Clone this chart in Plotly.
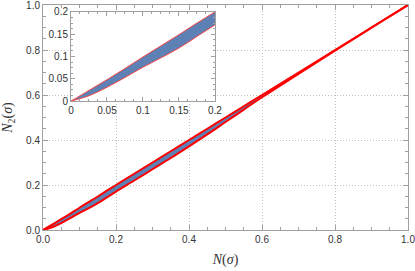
import plotly.graph_objects as go

# Data
n_vals = [0, 0.025, 0.05, 0.075, 0.1, 0.125, 0.15, 0.175, 0.2, 0.25, 0.3, 0.35,
          0.4, 0.45, 0.5, 0.55, 0.6, 0.7, 0.8, 0.9, 1.0]
upper = [0, 0.024, 0.048, 0.073, 0.099, 0.124, 0.149, 0.175, 0.2, 0.25, 0.3, 0.35,
         0.4, 0.45, 0.5, 0.55, 0.6, 0.7, 0.8, 0.9, 1.0]
lower = [0, 0.012, 0.031, 0.053, 0.076, 0.097, 0.119, 0.145, 0.171, 0.22, 0.27, 0.32,
         0.372, 0.425, 0.48, 0.535, 0.59, 0.694, 0.797, 0.899, 1.0]

main_ticks = [0.0, 0.2, 0.4, 0.6, 0.8, 1.0]
main_labels = ["0.0", "0.2", "0.4", "0.6", "0.8", "1.0"]
inset_ticks = [0, 0.05, 0.1, 0.15, 0.2]
inset_labels = ["0", "0.05", "0.1", "0.15", "0.2"]

BLUE = "rgb(94,129,181)"
RED = "rgb(255,0,0)"
FRAME = "#a0a0a0"
TICKFONT = dict(family="Liberation Sans, Arial, sans-serif", size=10, color="#333")
TITLEFONT = dict(family="Liberation Serif, Times New Roman, serif", size=14, color="#333")

fig = go.Figure()

for xa, ya, lw, lc in [("x", "y", 2, RED), ("x2", "y2", 1, "rgb(245,70,70)")]:
    fig.add_trace(go.Scatter(x=n_vals, y=lower, mode="lines", line=dict(width=0, color=BLUE, shape="spline"),
                             xaxis=xa, yaxis=ya, showlegend=False, hoverinfo="skip"))
    fig.add_trace(go.Scatter(x=n_vals, y=upper, mode="lines", line=dict(width=0, color=BLUE, shape="spline"),
                             fill="tonexty", fillcolor=BLUE,
                             xaxis=xa, yaxis=ya, showlegend=False, hoverinfo="skip"))
    fig.add_trace(go.Scatter(x=n_vals, y=lower, mode="lines", line=dict(width=lw, color=lc, shape="spline"),
                             xaxis=xa, yaxis=ya, showlegend=False))
    fig.add_trace(go.Scatter(x=n_vals, y=upper, mode="lines", line=dict(width=lw, color=lc, shape="spline"),
                             xaxis=xa, yaxis=ya, showlegend=False))

def axis_common():
    return dict(showline=True, linecolor=FRAME, linewidth=1, mirror="allticks",
                ticks="inside", ticklen=5, tickcolor=FRAME, zeroline=False,
                tickfont=TICKFONT, automargin=False, ticklabeloverflow="allow")

GRID = dict(showgrid=True, gridcolor="#c0c0c0", griddash="1px,2px", gridwidth=1)

xm = axis_common()
xm.update(range=[0, 1], tickvals=main_ticks, ticktext=main_labels, **GRID,
          minor=dict(dtick=0.05, tick0=0, ticks="inside", ticklen=3, tickcolor=FRAME, showgrid=False),
          title=dict(text="<i>N</i>(<i>σ</i>)", font=TITLEFONT, standoff=10),
          domain=[0, 1])
ym = axis_common()
ym.update(range=[0, 1], tickvals=main_ticks, ticktext=main_labels, **GRID,
          minor=dict(dtick=0.05, tick0=0, ticks="inside", ticklen=3, tickcolor=FRAME, showgrid=False),
          title=dict(text="<i>N</i><sub>2</sub>(<i>σ</i>)", font=TITLEFONT, standoff=10),
          domain=[0, 1])

xi = axis_common()
xi.update(range=[0, 0.2], tickvals=inset_ticks, ticktext=inset_labels, showgrid=False,
          minor=dict(dtick=0.0125, tick0=0, ticks="inside", ticklen=2, tickcolor=FRAME, showgrid=False),
          domain=[0.0767, 0.471], anchor="y2", ticklen=4)
yi = axis_common()
yi.update(range=[0, 0.2], tickvals=inset_ticks, ticktext=inset_labels, showgrid=False,
          minor=dict(dtick=0.0125, tick0=0, ticks="inside", ticklen=2, tickcolor=FRAME, showgrid=False),
          domain=[0.573, 0.969], anchor="x2", ticklen=4)

fig.update_layout(
    width=415, height=271,
    margin=dict(l=43, r=7, t=5, b=41, autoexpand=False),
    paper_bgcolor="white", plot_bgcolor="white",
    xaxis=xm, yaxis=ym, xaxis2=xi, yaxis2=yi,
    shapes=[dict(type="rect", xref="paper", yref="paper", x0=0.0767, x1=0.471, y0=0.573, y1=0.969,
                 fillcolor="white", line=dict(width=0), layer="between")],
)

fig.write_html("out.html", config={"displayModeBar": False, "staticPlot": True},
               post_script="document.body.style.margin='0';document.body.style.overflow='hidden';")
